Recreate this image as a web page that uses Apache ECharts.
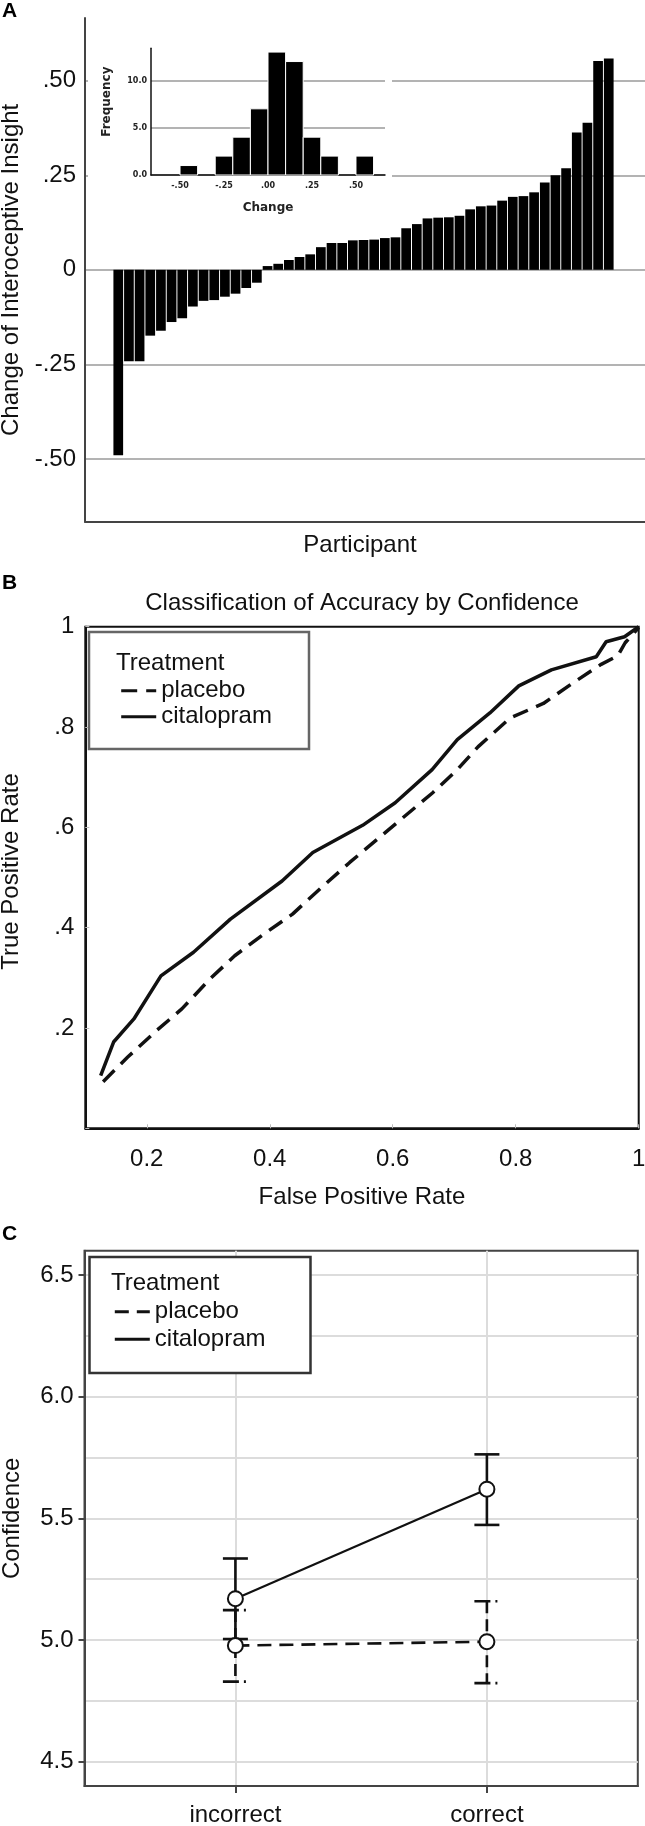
<!DOCTYPE html>
<html><head><meta charset="utf-8">
<script src="https://cdn.jsdelivr.net/npm/echarts@6/dist/echarts.min.js"></script>
<style>html,body{margin:0;padding:0;background:#fff}#c{width:645px;height:1826px}</style>
</head><body><div id="c"></div>
<script>
// ---------- Panel A: change of interoceptive insight per participant ----------
const participantChange = [-0.490, -0.242, -0.242, -0.174, -0.161, -0.138, -0.128, -0.097, -0.082, -0.080,
  -0.071, -0.063, -0.048, -0.034, 0.010, 0.016, 0.026, 0.034, 0.041, 0.060,
  0.071, 0.071, 0.078, 0.079, 0.080, 0.084, 0.086, 0.110, 0.121, 0.136,
  0.138, 0.139, 0.143, 0.160, 0.168, 0.170, 0.183, 0.193, 0.195, 0.205,
  0.231, 0.250, 0.269, 0.363, 0.389, 0.552, 0.559];
const participantRank = participantChange.map((_, i) => i + 1);
const changeTicks = [-0.5, -0.25, 0, 0.25, 0.5];
// inset histogram
const histBinStart = [-0.5, -0.3, -0.2, -0.1, 0.0, 0.1, 0.2, 0.3, 0.5];
const histBinEnd = [-0.4, -0.2, -0.1, 0.0, 0.1, 0.2, 0.3, 0.4, 0.6];
const histFreq = [1, 2, 4, 7, 13, 12, 4, 2, 2];
const histChangeTicks = [-0.5, -0.25, 0, 0.25, 0.5];
const histFreqTicks = [0, 5, 10];

// ---------- Panel B: ROC curves ----------
const rocPlaceboFPR = [0.129, 0.169, 0.216, 0.257, 0.303, 0.343, 0.390, 0.437, 0.484, 0.530, 0.594, 0.665, 0.705, 0.739, 0.791, 0.845, 0.892, 0.939, 0.966, 0.978, 1.0];
const rocPlaceboTPR = [0.093, 0.142, 0.195, 0.238, 0.298, 0.344, 0.387, 0.427, 0.480, 0.530, 0.596, 0.669, 0.715, 0.761, 0.818, 0.847, 0.887, 0.925, 0.942, 0.968, 0.998];
const rocCitalFPR = [0.125, 0.146, 0.179, 0.223, 0.276, 0.336, 0.420, 0.470, 0.551, 0.604, 0.664, 0.705, 0.758, 0.805, 0.858, 0.931, 0.947, 0.977, 1.0];
const rocCitalTPR = [0.105, 0.172, 0.218, 0.304, 0.351, 0.417, 0.493, 0.550, 0.604, 0.649, 0.715, 0.775, 0.828, 0.882, 0.914, 0.940, 0.970, 0.980, 1.0];
const fprTicks = [0.2, 0.4, 0.6, 0.8, 1.0];

// ---------- Panel C: confidence by accuracy ----------
const accuracyCategories = ['incorrect', 'correct'];
const placeboMean = [4.977, 4.993];
const placeboLow = [4.829, 4.823];
const placeboHigh = [5.123, 5.159];
const citalMean = [5.170, 5.620];
const citalLow = [5.004, 5.473];
const citalHigh = [5.335, 5.763];
const confidenceTicks = [4.5, 5.0, 5.5, 6.0, 6.5];
const confidenceGrid = [4.5, 4.75, 5.0, 5.25, 5.5, 5.75, 6.0, 6.25, 6.5];

const FONT = "'Liberation Sans', Arial, sans-serif";
const INSET_FONT = "'DejaVu Sans', Verdana, sans-serif";
const TXT = '#111';

function fmtChange(v) {
  if (Math.abs(v) < 1e-9) return '0';
  return v.toFixed(2).replace('0.', '.');
}
function fmtHist(v) {
  if (Math.abs(v) < 1e-9) return '.00';
  return v.toFixed(2).replace('0.', '.');
}

function errorBarRenderer(dashed) {
  return function (params, api) {
    const x = api.value(0), lo = api.value(1), hi = api.value(2);
    const top = api.coord([x, hi]);
    const bot = api.coord([x, lo]);
    const w = 12.5;
    const vStyle = { stroke: '#111', lineWidth: 2.6, lineDash: dashed ? [12, 6] : null };
    const cStyle = { stroke: '#111', lineWidth: 2.6, lineDash: dashed ? [16, 5, 2, 10] : null };
    return {
      type: 'group',
      children: [
        { type: 'line', shape: { x1: top[0], y1: top[1], x2: bot[0], y2: bot[1] }, style: vStyle },
        { type: 'line', shape: { x1: top[0] - w, y1: top[1], x2: top[0] + w, y2: top[1] }, style: cStyle },
        { type: 'line', shape: { x1: bot[0] - w, y1: bot[1], x2: bot[0] + w, y2: bot[1] }, style: cStyle }
      ]
    };
  };
}

const chart = echarts.init(document.getElementById('c'), null, { renderer: 'canvas' });

const G = { containLabel: false, outerBoundsMode: 'none' };
const option = {
  animation: false,
  backgroundColor: '#fff',
  textStyle: { fontFamily: FONT, color: TXT },
  grid: [
    Object.assign({ left: 85, top: 18, width: 560, height: 503.7 }, G),                  // A main
    Object.assign({ left: 151, top: 48.3, width: 234, height: 126.7 }, G),               // A inset
    Object.assign({ left: 85.3, top: 626.7, width: 553.4, height: 501.6, show: true, borderColor: '#111', borderWidth: 2 }, G), // B
    Object.assign({ left: 84.5, top: 1250.7, width: 553.3, height: 535.3, show: true, borderColor: '#444', borderWidth: 2 }, G) // C
  ],
  xAxis: [
    { gridIndex: 0, type: 'value', min: -2.12, max: 50.4,
      axisLine: { show: true, onZero: false, lineStyle: { color: '#444', width: 2 } },
      axisTick: { show: false }, axisLabel: { show: false }, splitLine: { show: false },
      name: 'Participant', nameLocation: 'middle', nameGap: 12, nameMoveOverlap: false,
      nameTextStyle: { fontSize: 24, color: TXT, fontFamily: FONT, padding: [0, 10, 0, 0] } },
    { gridIndex: 1, type: 'value', min: -0.665, max: 0.665, z: 3,
      axisLine: { show: true, onZero: false, lineStyle: { color: '#111', width: 1.5 } },
      axisTick: { show: false, customValues: histChangeTicks },
      axisLabel: { customValues: histChangeTicks, formatter: fmtHist, fontSize: 8, fontWeight: 'bold', fontFamily: INSET_FONT, color: '#222', margin: 7 },
      splitLine: { show: false },
      name: 'Change', nameLocation: 'middle', nameGap: 27, nameMoveOverlap: false,
      nameTextStyle: { fontSize: 12, fontWeight: 'bold', fontFamily: INSET_FONT, color: '#222' } },
    { gridIndex: 2, type: 'value', min: 0.1, max: 1,
      axisLine: { show: true, onZero: false, lineStyle: { color: '#111', width: 2 } },
      axisTick: { show: true, inside: true, length: 4, customValues: fprTicks, lineStyle: { color: '#bbb', width: 1 } },
      axisLabel: { customValues: fprTicks, formatter: v => (v === 1 ? '1' : v.toFixed(1)), fontSize: 24, color: TXT, margin: 19 },
      splitLine: { show: false },
      name: 'False Positive Rate', nameLocation: 'middle', nameGap: 57, nameMoveOverlap: false,
      nameTextStyle: { fontSize: 24, color: TXT, fontFamily: FONT } },
    { gridIndex: 3, type: 'value', min: -0.6, max: 1.6,
      axisLine: { show: true, onZero: false, lineStyle: { color: '#444', width: 2 } },
      axisTick: { show: true, customValues: [0, 1], length: 7, lineStyle: { color: '#444', width: 2 } },
      axisLabel: { customValues: [0, 1], formatter: v => accuracyCategories[Math.round(v)], fontSize: 24, color: TXT, margin: 17 },
      splitLine: { show: true, lineStyle: { color: '#dcdcdc', width: 2 } } }
  ],
  yAxis: [
    { gridIndex: 0, type: 'value', min: -0.666, max: 0.666,
      axisLine: { show: true, onZero: false, lineStyle: { color: '#444', width: 2 } },
      axisTick: { show: false, customValues: changeTicks },
      axisLabel: { customValues: changeTicks, formatter: fmtChange, fontSize: 24, color: TXT, margin: 9 },
      splitLine: { show: true, lineStyle: { color: '#9a9a9a', width: 1.5 } },
      name: 'Change of Interoceptive Insight', nameLocation: 'middle', nameGap: 62, nameMoveOverlap: false,
      nameTextStyle: { fontSize: 24, color: TXT, fontFamily: FONT } },
    { gridIndex: 1, type: 'value', min: 0, max: 13.4, z: 3,
      axisLine: { show: true, onZero: false, lineStyle: { color: '#111', width: 1.5 } },
      axisTick: { show: false, customValues: histFreqTicks },
      axisLabel: { customValues: histFreqTicks, formatter: v => v.toFixed(1), fontSize: 8, fontWeight: 'bold', fontFamily: INSET_FONT, color: '#222', margin: 4 },
      splitLine: { show: true, lineStyle: { color: '#9a9a9a', width: 1.5 } },
      name: 'Frequency', nameLocation: 'middle', nameGap: 38, nameMoveOverlap: false,
      nameTextStyle: { fontSize: 12, fontWeight: 'bold', fontFamily: INSET_FONT, color: '#222', padding: [0, 0, 0, 20] } },
    { gridIndex: 2, type: 'value', min: 0, max: 1, interval: 0.2,
      axisLine: { show: true, onZero: false, lineStyle: { color: '#111', width: 2 } },
      axisTick: { show: true, inside: true, length: 4, lineStyle: { color: '#bbb', width: 1 } },
      axisLabel: { formatter: v => (v === 0 ? '' : v >= 0.999 ? '1' : '.' + Math.round(v * 10)), fontSize: 24, color: TXT, margin: 11 },
      splitLine: { show: false },
      name: 'True Positive Rate', nameLocation: 'middle', nameGap: 62, nameMoveOverlap: false,
      nameTextStyle: { fontSize: 24, color: TXT, fontFamily: FONT, padding: [0, 0, 0, 12] } },
    { gridIndex: 3, type: 'value', min: 4.4, max: 6.6,
      axisLine: { show: true, onZero: false, lineStyle: { color: '#444', width: 2 } },
      axisTick: { show: true, customValues: confidenceTicks, length: 6, lineStyle: { color: '#444', width: 2 } },
      axisLabel: { customValues: confidenceTicks, formatter: v => v.toFixed(1), fontSize: 24, color: TXT, margin: 11 },
      splitLine: { show: false },
      name: 'Confidence', nameLocation: 'middle', nameGap: 60, nameMoveOverlap: false,
      nameTextStyle: { fontSize: 24, color: TXT, fontFamily: FONT } },
    { gridIndex: 3, type: 'value', min: 4.4, max: 6.6,
      axisLine: { show: false, onZero: false }, axisLabel: { show: false },
      axisTick: { show: false, customValues: confidenceGrid },
      splitLine: { show: true, lineStyle: { color: '#dcdcdc', width: 2 } } }
  ],
  legend: [
    { data: ['placebo', 'citalopram'], orient: 'vertical', left: 119.7, top: 678.7,
      itemWidth: 35, itemHeight: 14, itemGap: 2, padding: 0, selectedMode: false, z: 6,
      textStyle: { fontSize: 24, color: TXT, fontFamily: FONT },
      itemStyle: { opacity: 0 }, lineStyle: { width: 3 } },
    { data: ['placebo (C)', 'citalopram (C)'], orient: 'vertical', left: 113.3, top: 1299.7,
      itemWidth: 35, itemHeight: 14, itemGap: 3.6, padding: 0, selectedMode: false, z: 6,
      formatter: n => n.replace(' (C)', ''),
      textStyle: { fontSize: 24, color: TXT, fontFamily: FONT },
      itemStyle: { opacity: 0 }, lineStyle: { width: 3 } }
  ],
  graphic: { elements: [
    { type: 'rect', z: 1, shape: { x: 88, y: 22, width: 304, height: 205 }, style: { fill: '#fff' } },
    { type: 'rect', z: 4, shape: { x: 89, y: 632, width: 220, height: 117 }, style: { fill: '#fff', stroke: '#666', lineWidth: 2.5 } },
    { type: 'rect', z: 4, shape: { x: 89.5, y: 1257, width: 221, height: 116 }, style: { fill: '#fff', stroke: '#333', lineWidth: 2.5 } },
    { type: 'text', z: 7, x: 116, y: 663, style: { text: 'Treatment', font: '24px ' + FONT, fill: TXT, textVerticalAlign: 'middle' } },
    { type: 'text', z: 7, x: 111, y: 1283, style: { text: 'Treatment', font: '24px ' + FONT, fill: TXT, textVerticalAlign: 'middle' } },
    { type: 'text', z: 7, x: 362, y: 603, style: { text: 'Classification of Accuracy by Confidence', font: '24px ' + FONT, fill: TXT, textAlign: 'center', textVerticalAlign: 'middle' } },
    { type: 'text', z: 7, x: 2, y: 11, style: { text: 'A', font: 'bold 21px ' + FONT, fill: '#000', textVerticalAlign: 'middle' } },
    { type: 'text', z: 7, x: 2, y: 583, style: { text: 'B', font: 'bold 21px ' + FONT, fill: '#000', textVerticalAlign: 'middle' } },
    { type: 'text', z: 7, x: 2, y: 1234, style: { text: 'C', font: 'bold 21px ' + FONT, fill: '#000', textVerticalAlign: 'middle' } }
  ] },
  series: [
    { name: 'change', type: 'bar', xAxisIndex: 0, yAxisIndex: 0, barWidth: '91%',
      data: participantRank.map((r, i) => [r, participantChange[i]]),
      itemStyle: { color: '#000' } },
    { name: 'histogram', type: 'custom', xAxisIndex: 1, yAxisIndex: 1, z: 4,
      encode: { x: [0, 1], y: 2 },
      data: histBinStart.map((s, i) => [s, histBinEnd[i], histFreq[i]]),
      renderItem: (params, api) => {
        const p0 = api.coord([api.value(0), api.value(2)]);
        const p1 = api.coord([api.value(1), 0]);
        return { type: 'rect', shape: { x: p0[0], y: p0[1], width: p1[0] - p0[0], height: p1[1] - p0[1] },
          style: { fill: '#000', stroke: '#fff', lineWidth: 1 } };
      } },
    { name: 'placebo', type: 'line', xAxisIndex: 2, yAxisIndex: 2, symbol: 'none',
      data: rocPlaceboFPR.map((x, i) => [x, rocPlaceboTPR[i]]),
      lineStyle: { color: '#111', width: 3.5, type: [16, 9] }, itemStyle: { color: '#111' } },
    { name: 'citalopram', type: 'line', xAxisIndex: 2, yAxisIndex: 2, symbol: 'none',
      data: rocCitalFPR.map((x, i) => [x, rocCitalTPR[i]]),
      lineStyle: { color: '#111', width: 3.5 }, itemStyle: { color: '#111' } },
    { name: 'placebo error', type: 'custom', xAxisIndex: 3, yAxisIndex: 3, z: 2,
      encode: { x: 0, y: [1, 2] },
      data: accuracyCategories.map((c, i) => [i, placeboLow[i], placeboHigh[i]]),
      renderItem: errorBarRenderer(true) },
    { name: 'citalopram error', type: 'custom', xAxisIndex: 3, yAxisIndex: 3, z: 2,
      encode: { x: 0, y: [1, 2] },
      data: accuracyCategories.map((c, i) => [i, citalLow[i], citalHigh[i]]),
      renderItem: errorBarRenderer(false) },
    { name: 'placebo (C)', type: 'line', xAxisIndex: 3, yAxisIndex: 3, symbol: 'none', z: 3,
      data: accuracyCategories.map((c, i) => [i, placeboMean[i]]),
      lineStyle: { color: '#111', width: 2.6, type: [14, 8] }, itemStyle: { color: '#111' } },
    { name: 'citalopram (C)', type: 'line', xAxisIndex: 3, yAxisIndex: 3, symbol: 'none', z: 3,
      data: accuracyCategories.map((c, i) => [i, citalMean[i]]),
      lineStyle: { color: '#111', width: 2.2 }, itemStyle: { color: '#111' } },
    { name: 'means', type: 'scatter', xAxisIndex: 3, yAxisIndex: 3, z: 5,
      symbol: 'circle', symbolSize: 15,
      data: accuracyCategories.map((c, i) => [i, placeboMean[i]]).concat(accuracyCategories.map((c, i) => [i, citalMean[i]])),
      itemStyle: { color: '#fff', opacity: 1, borderColor: '#111', borderWidth: 2 } }
  ]
};
chart.setOption(option);
</script>
</body></html>
